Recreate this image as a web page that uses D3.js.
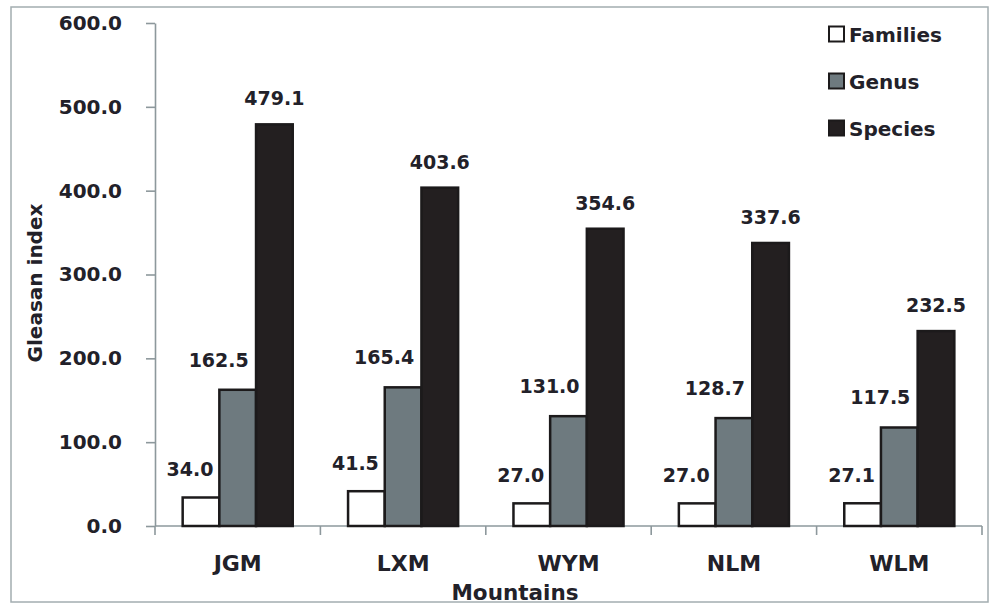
<!DOCTYPE html>
<html>
<head>
<meta charset="utf-8">
<script src="https://cdn.jsdelivr.net/npm/d3@7"></script>
<style>
  html, body { margin: 0; padding: 0; background: #ffffff; }
  svg { display: block; font-family: "DejaVu Sans", Verdana, sans-serif; font-weight: bold; }
</style>
</head>
<body>
<svg id="chart" width="990" height="607"></svg>
<script>
// Gleason index of families, genera and species per mountain
const mountains = ["JGM", "LXM", "WYM", "NLM", "WLM"];
const seriesNames = ["Families", "Genus", "Species"];
const families = [34.0, 41.5, 27.0, 27.0, 27.1];
const genus = [162.5, 165.4, 131.0, 128.7, 117.5];
const species = [479.1, 403.6, 354.6, 337.6, 232.5];
const yTicks = [0, 100, 200, 300, 400, 500, 600];

const seriesValues = [families, genus, species];
const seriesFill = ["#ffffff", "#6e7a7f", "#231f20"];
const textColor = "#222129";
const axisColor = "#8d989c";

const svg = d3.select("#chart");
const plot = { left: 155, right: 982, top: 23, bottom: 526 };

// outer frame
svg.append("rect")
  .attr("x", 11).attr("y", 7)
  .attr("width", 977).attr("height", 595)
  .attr("fill", "#ffffff")
  .attr("stroke", "#a3adb0").attr("stroke-width", 1.5);

const x0 = d3.scaleBand().domain(mountains).range([plot.left, plot.right]).padding(0);
const x1 = d3.scaleBand().domain(seriesNames).range([0, x0.bandwidth()])
  .paddingInner(0).paddingOuter(0.754);
const y = d3.scaleLinear().domain([0, 600]).range([plot.bottom, plot.top]);

// y axis
const yAxis = d3.axisLeft(y).tickValues(yTicks).tickFormat(d3.format(".1f"))
  .tickSizeInner(9).tickSizeOuter(0).tickPadding(24);
const gy = svg.append("g").attr("transform", `translate(${plot.left},0)`).call(yAxis);
gy.selectAll("path, line").attr("stroke", axisColor).attr("stroke-width", 1.6);
gy.selectAll("text").attr("fill", textColor).style("font-size", "20px")
  .style("font-family", "DejaVu Sans").style("font-weight", "bold");

// x axis: ticks sit on the category boundaries
const boundaries = d3.range(mountains.length + 1).map(i => plot.left + i * x0.step());
const gx = svg.append("g");
gx.append("line")
  .attr("x1", plot.left).attr("x2", plot.right)
  .attr("y1", plot.bottom).attr("y2", plot.bottom)
  .attr("stroke", axisColor).attr("stroke-width", 1.6);
gx.selectAll("line.tick").data(boundaries).join("line").attr("class", "tick")
  .attr("x1", d => d).attr("x2", d => d)
  .attr("y1", plot.bottom).attr("y2", plot.bottom + 9)
  .attr("stroke", axisColor).attr("stroke-width", 1.6);
gx.selectAll("text").data(mountains).join("text")
  .attr("x", d => x0(d) + x0.bandwidth() / 2)
  .attr("y", plot.bottom + 45)
  .attr("text-anchor", "middle")
  .attr("fill", textColor).style("font-size", "22px")
  .text(d => d);

// bars
const groups = svg.append("g").selectAll("g").data(mountains).join("g")
  .attr("transform", d => `translate(${x0(d)},0)`);

groups.selectAll("rect")
  .data((m, i) => seriesNames.map((s, k) => ({ s, k, v: seriesValues[k][i] })))
  .join("rect")
  .attr("x", d => x1(d.s))
  .attr("y", d => y(d.v))
  .attr("width", x1.bandwidth())
  .attr("height", d => y(0) - y(d.v))
  .attr("fill", d => seriesFill[d.k])
  .attr("stroke", "#1c1a1b")
  .attr("stroke-width", 2.5);

// value labels
const labelShift = [{ dx: -11, dy: -21 }, { dx: -19, dy: -23 }, { dx: 0, dy: -19 }];
groups.selectAll("text")
  .data((m, i) => seriesNames.map((s, k) => ({ s, k, v: seriesValues[k][i] })))
  .join("text")
  .attr("x", d => x1(d.s) + x1.bandwidth() / 2 + labelShift[d.k].dx)
  .attr("y", d => y(d.v) + labelShift[d.k].dy)
  .attr("text-anchor", "middle")
  .attr("fill", textColor).style("font-size", "19px")
  .text(d => d.v.toFixed(1));

// axis titles
svg.append("text")
  .attr("x", 515).attr("y", 600)
  .attr("text-anchor", "middle")
  .attr("fill", textColor).style("font-size", "21.5px")
  .text("Mountains");
svg.append("text")
  .attr("transform", "translate(42,283) rotate(-90)")
  .attr("text-anchor", "middle")
  .attr("fill", textColor).style("font-size", "20px")
  .text("Gleasan index");

// legend
const legend = svg.append("g").attr("transform", "translate(829,0)");
const legendRows = legend.selectAll("g").data(seriesNames).join("g")
  .attr("transform", (d, i) => `translate(0,${34 + i * 47})`);
legendRows.append("rect")
  .attr("x", 0).attr("y", -7.5).attr("width", 15).attr("height", 15)
  .attr("fill", (d, i) => seriesFill[i])
  .attr("stroke", "#1c1a1b").attr("stroke-width", 2);
legendRows.append("text")
  .attr("x", 20).attr("y", 7.5)
  .attr("fill", textColor).style("font-size", "20px")
  .text(d => d);
</script>
</body>
</html>
